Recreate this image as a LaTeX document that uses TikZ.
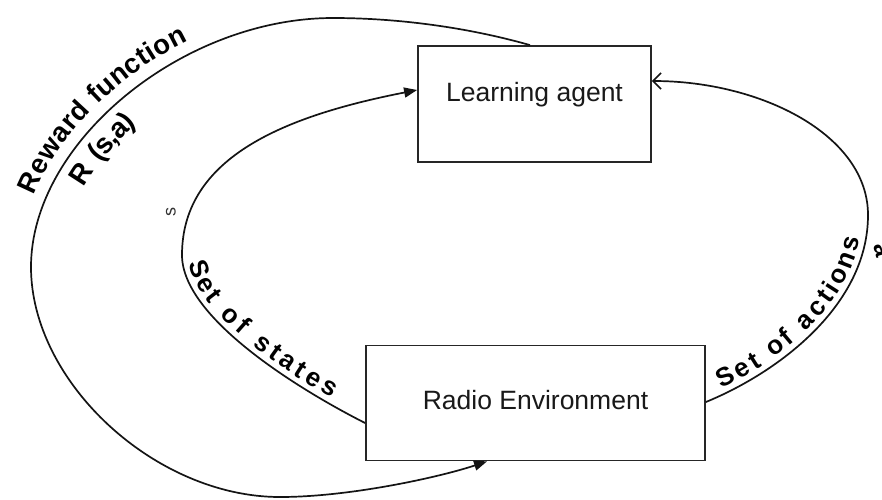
\documentclass[tikz,border=0pt]{standalone}
\usepackage{fontspec}
\setmainfont{Liberation Sans}
\usetikzlibrary{arrows.meta,decorations.text}
\begin{document}
\begin{tikzpicture}[x=1pt,y=-1pt,
  box/.style={draw=black!85,line width=1.8pt,inner sep=0pt},
  conn/.style={line width=1.7pt,draw=black!92},
  lbl/.style={font=\fontsize{26.5}{30}\selectfont,text=black!90},
  filled/.style={-{Triangle[length=13pt,width=10pt]}},
  openv/.style={-{Straight Barb[length=8pt,width=16pt,line width=1.6pt]}},
  curvetext/.style 2 args={decorate,decoration={text along path,text={|\bfseries\fontsize{#1}{30}\selectfont|#2}}},
]
\useasboundingbox (0,0) rectangle (882,499);
\fill[white] (0,0) rectangle (882,499);

\node[box,minimum width=233pt,minimum height=116pt,
      label={[lbl,yshift=9pt]center:Learning agent}] (la) at (534.5,104) {};
\node[box,minimum width=339pt,minimum height=115pt,
      label={[lbl,yshift=3pt]center:Radio Environment}] (re) at (535.5,403) {};

% reward function loop
\draw[conn,filled] ([xshift=-4.5pt]la.north) .. controls (470,28) and (400,18) .. (333,18)
  .. controls (182,18) and (31,142.5) .. (31,267)
  .. controls (31,382) and (155,497) .. (280,497)
  .. controls (350,497) and (440,477) .. ([xshift=-48.5pt]re.south);

% set of states
\draw[conn,filled] ([yshift=-20pt]re.west) .. controls (300,390) and (182,318) .. (182,255)
  .. controls (182,155) and (290,115) .. ([yshift=14pt]la.west);

% set of actions
\draw[conn,openv] ([yshift=1pt]re.east) .. controls (779,372) and (868,305) .. (868,215)
  .. controls (868,135) and (761,81) .. ([yshift=23pt]la.east);

% labels along curves
\path[curvetext={27.5}{Reward function},decoration={raise=12pt,text align={left indent=68pt}}]
  (31,267) .. controls (31,142.5) and (182,18) .. (333,18);
\path[curvetext={28}{R{\kern13pt}(s,a)},decoration={raise=-29pt,text align={left indent=100pt}}]
  (31,267) .. controls (31,142.5) and (182,18) .. (333,18);
\path[curvetext={26}{Set of states},decoration={raise=6pt,text align={left indent=10pt,right indent=42pt,fit to path}}]
  (182,255) .. controls (182,318) and (300,390) .. (366,423);
\path[curvetext={26}{Set of actions},decoration={raise=6pt,text align={left indent=20pt,right indent=25pt,fit to path}}]
  ([yshift=1pt]re.east) .. controls (779,372) and (868,305) .. (868,215);

\node[font=\fontsize{18}{20}\selectfont,rotate=90,inner sep=0pt,text=black!80] (sx) at (171,212) {s};
\node[font=\bfseries\fontsize{24}{28}\selectfont,rotate=-75,inner sep=0pt] (ax) at (881,250) {a};
\end{tikzpicture}
\end{document}
